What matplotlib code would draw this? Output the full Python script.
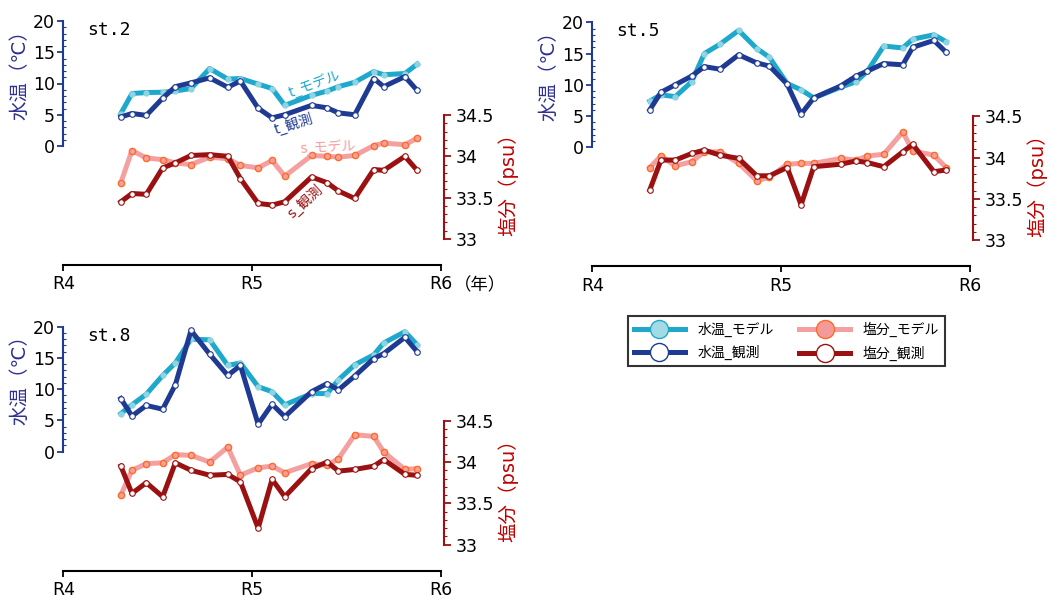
import numpy as np
import matplotlib.pyplot as plt
from matplotlib.lines import Line2D
from matplotlib.ticker import FixedLocator

plt.rcParams['font.family'] = ['DejaVu Sans', 'Noto Sans CJK JP']

# sampling dates as decimal years (R4 = 2022)
years = [2022.305, 2022.364, 2022.440, 2022.527, 2022.594, 2022.677, 2022.776,
         2022.872, 2022.939, 2023.033, 2023.107, 2023.174, 2023.316, 2023.399,
         2023.459, 2023.545, 2023.646, 2023.699, 2023.811, 2023.876]

# st.2
st2_t_model = [5.2, 8.4, 8.55, 8.6, 8.8, 9.2, 12.4, 10.7, 10.8, 9.9,
               9.2, 6.5, 8.1, 8.8, 9.5, 10.2, 11.9, 11.4, 11.6, 13.1]
st2_t_obs = [4.65, 5.2, 4.9, 7.65, 9.5, 10.1, 10.9, 9.4, 10.4, 6.05,
             4.5, 5.0, 6.5, 6.1, 5.3, 5.0, 10.8, 9.5, 11.1, 8.9]
st2_s_model = [33.68, 34.07, 33.98, 33.96, 33.92, 33.90, 33.99, 33.97, 33.89, 33.86,
               33.95, 33.76, 34.01, 34.00, 33.99, 34.01, 34.13, 34.16, 34.14, 34.22]
st2_s_obs = [33.45, 33.55, 33.54, 33.86, 33.92, 34.01, 34.02, 34.00, 33.73, 33.43,
             33.41, 33.45, 33.75, 33.68, 33.58, 33.49, 33.84, 33.83, 34.00, 33.83]

# st.5
st5_t_model = [7.4, 8.4, 8.1, 10.5, 15.0, 16.5, 18.7, 15.8, 14.4, 10.2,
               9.2, 7.9, 9.6, 10.5, 12.2, 16.2, 15.9, 17.3, 18.0, 16.9]
st5_t_obs = [6.0, 8.8, 10.0, 11.4, 12.9, 12.5, 14.8, 13.5, 13.0, 10.1,
             5.3, 7.9, 9.8, 11.4, 12.2, 13.4, 13.2, 16.0, 17.1, 15.2]
st5_s_model = [33.88, 34.02, 33.90, 33.95, 34.07, 34.07, 33.93, 33.72, 33.76, 33.92,
               33.93, 33.93, 33.99, 33.97, 34.02, 34.04, 34.31, 34.08, 34.03, 33.88]
st5_s_obs = [33.61, 33.97, 33.97, 34.05, 34.09, 34.03, 33.99, 33.78, 33.78, 33.88,
             33.43, 33.89, 33.92, 33.96, 33.94, 33.89, 34.07, 34.16, 33.83, 33.85]

# st.8
st8_t_model = [6.1, 7.5, 9.2, 12.2, 14.2, 18.0, 17.9, 13.8, 14.2, 10.4,
               9.6, 7.5, 9.3, 9.3, 11.5, 13.9, 15.5, 17.4, 19.2, 17.1]
st8_t_obs = [8.5, 5.7, 7.4, 6.8, 10.7, 19.4, 15.6, 12.2, 13.8, 4.4,
             7.6, 5.6, 9.6, 10.9, 9.9, 12.1, 14.9, 15.7, 18.3, 16.0]
st8_s_model = [33.60, 33.90, 33.98, 33.99, 34.09, 34.08, 34.00, 34.18, 33.84, 33.93,
               33.95, 33.87, 33.98, 33.96, 34.04, 34.33, 34.31, 34.12, 33.91, 33.92]
st8_s_obs = [33.95, 33.62, 33.75, 33.58, 33.99, 33.90, 33.84, 33.85, 33.76, 33.20,
             33.79, 33.58, 33.92, 34.00, 33.89, 33.91, 33.95, 34.03, 33.85, 33.84]

c_tm, c_tm_dot = '#1ea9cc', '#8fd4e2'
c_to = '#1f3a93'
c_sm, c_sm_dot = '#f5a0a0', '#ff6a24'
c_so = '#9b1010'
c_tlab = '#2e2f8f'
c_slab = '#c00000'

W, H = 1050, 598
fig = plt.figure(figsize=(W / 100, H / 100), dpi=100)


def panel(left, top, name, tm, to, sm, so, nen=False):
    ax = fig.add_axes([left / W, 1 - (top + 244) / H, 381 / W, 244 / H])
    ax2 = ax.twinx()
    ax.set_zorder(1)
    ax2.set_zorder(2)
    ax.patch.set_visible(False)

    ax.plot(years, tm, color=c_tm, lw=3.6, marker='o', ms=3.5, mfc=c_tm_dot, mec=c_tm_dot)
    ax.plot(years, to, color=c_to, lw=3.6, marker='o', ms=4, mfc='white', mec=c_to, mew=0.8)
    ax2.plot(years, sm, color=c_sm, lw=3.6, marker='o', ms=4.5, mfc=c_sm, mec=c_sm_dot, mew=1.0)
    ax2.plot(years, so, color=c_so, lw=3.6, marker='o', ms=4, mfc='white', mec=c_so, mew=0.8)

    ax.set_xlim(2022, 2024.02)
    ax.set_ylim(-19.04, 20)
    ax2.set_ylim(32.685, 35.637)

    for a in (ax, ax2):
        a.spines['top'].set_visible(False)
    ax.spines['right'].set_visible(False)
    ax2.spines['left'].set_visible(False)
    ax2.spines['bottom'].set_visible(False)

    ax.spines['left'].set_bounds(0, 20)
    ax.spines['left'].set_color(c_to)
    ax.spines['left'].set_linewidth(1.5)
    ax.spines['bottom'].set_bounds(2022, 2024)
    ax.spines['bottom'].set_linewidth(1.5)
    ax2.spines['right'].set_bounds(33, 34.5)
    ax2.spines['right'].set_color(c_so)
    ax2.spines['right'].set_linewidth(1.5)

    ax.set_yticks([0, 5, 10, 15, 20])
    ax.yaxis.set_minor_locator(FixedLocator([v for v in range(21) if v % 5]))
    ax.tick_params(axis='y', which='major', colors=c_to, labelcolor='black',
                   length=4.5, width=1.3, pad=1.5, labelsize=12.5)
    ax.tick_params(axis='y', which='minor', colors=c_to, length=2, width=0.8, direction='in')
    ax.set_xticks([2022, 2023, 2024])
    ax.set_xticklabels(['R4', 'R5', 'R6'])
    ax.tick_params(axis='x', length=4.5, width=1.3, pad=3, labelsize=12.5)

    ax2.set_yticks([33, 33.5, 34, 34.5])
    ax2.set_yticklabels(['33', '33.5', '34', '34.5'])
    ax2.yaxis.set_minor_locator(FixedLocator([33 + k / 10 for k in range(16) if k % 5]))
    ax2.tick_params(axis='y', which='major', colors=c_so, labelcolor='black',
                    length=5, width=1.3, pad=3, labelsize=12.5)
    ax2.tick_params(axis='y', which='minor', colors=c_so, length=2.5, width=0.8)

    ax.set_ylabel('水温（℃）', color=c_tlab, fontsize=14)
    ax.yaxis.set_label_coords(-0.113, 0.80)
    ax.yaxis.label.set_verticalalignment('center')
    ax2.set_ylabel('塩分（psu）', color=c_slab, fontsize=14, rotation=90)
    ax2.yaxis.set_label_coords(1.168, 0.35)
    ax2.yaxis.label.set_verticalalignment('center')

    ax.text(0.063, 0.963, name, transform=ax.transAxes, fontsize=13,
            family='DejaVu Sans Mono', va='center', ha='left')
    if nen:
        ax.text(1.025, -0.082, '（年）', fontsize=12.5, ha='left', va='center',
                transform=ax.transAxes)
    return ax, ax2


ax, ax2 = panel(63.3, 21, 'st.2', st2_t_model, st2_t_obs, st2_s_model, st2_s_obs, nen=True)
ax.text(2023.33, 10.0, 't_モデル', color=c_tm, fontsize=10, rotation=20, ha='center', va='center')
ax.text(2023.22, 3.6, 't_観測', color=c_to, fontsize=10, rotation=17, ha='center', va='center')
ax2.text(2023.40, 34.11, 's_モデル', color=c_sm, fontsize=10, rotation=3, ha='center', va='center')
ax2.text(2023.28, 33.46, 's_観測', color=c_so, fontsize=10, rotation=42, ha='center', va='center')

panel(592.3, 22.3, 'st.5', st5_t_model, st5_t_obs, st5_s_model, st5_s_obs)
panel(63.3, 326.7, 'st.8', st8_t_model, st8_t_obs, st8_s_model, st8_s_obs)

handles = [
    Line2D([], [], color=c_tm, lw=3.6, marker='o', ms=13, mfc='#a3dbe5', mec=c_tm, mew=1),
    Line2D([], [], color=c_to, lw=3.6, marker='o', ms=13, mfc='white', mec=c_to, mew=1),
    Line2D([], [], color=c_sm, lw=3.6, marker='o', ms=13, mfc='#f59a9a', mec=c_sm_dot, mew=1),
    Line2D([], [], color=c_so, lw=3.6, marker='o', ms=13, mfc='white', mec=c_so, mew=1),
]
labels = ['水温_モデル', '水温_観測', '塩分_モデル', '塩分_観測']
leg = fig.legend(handles, labels, ncol=2, loc='center',
                 bbox_to_anchor=(786.5 / W, 1 - 341 / H), fontsize=10,
                 frameon=True, fancybox=False, edgecolor='black',
                 handlelength=3.7, handletextpad=0.9, columnspacing=1.8,
                 labelspacing=0.6, borderpad=0.4)
leg.get_frame().set_linewidth(1.5)

fig.savefig('out.png', dpi=100)
